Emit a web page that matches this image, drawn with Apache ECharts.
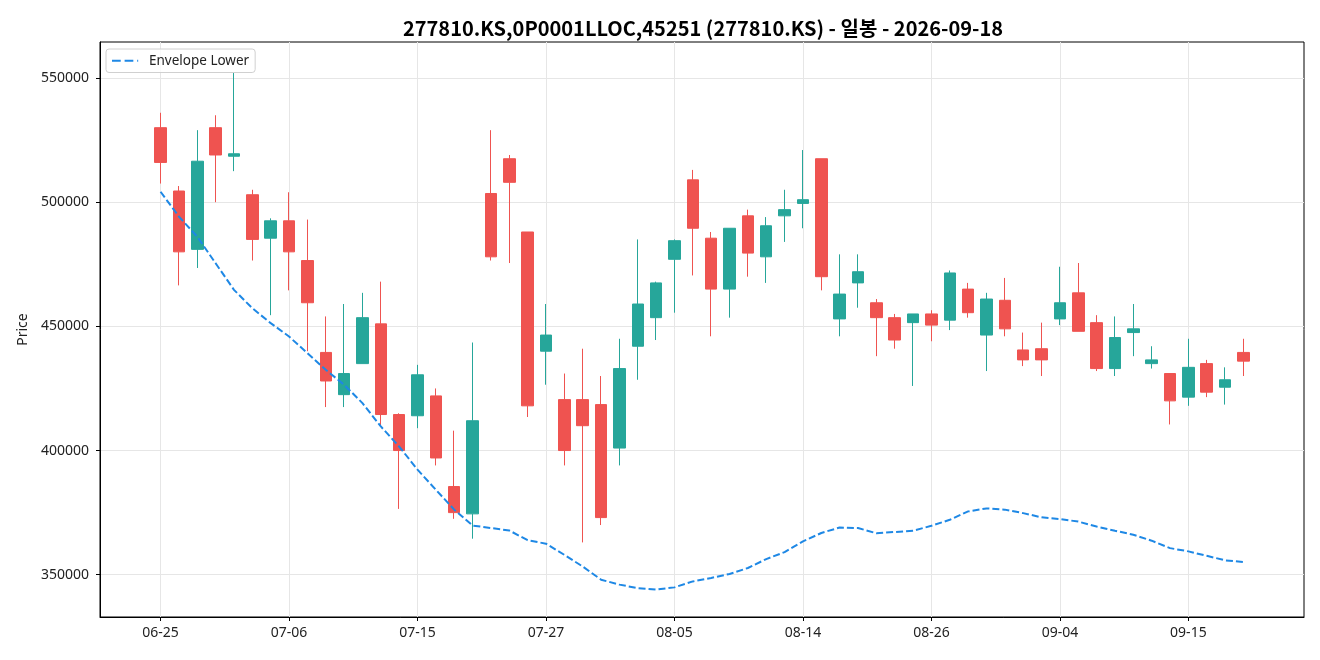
<!DOCTYPE html>
<html>
<head>
<meta charset="utf-8">
<script src="https://cdn.jsdelivr.net/npm/echarts@6/dist/echarts.min.js"></script>
<style>
  html, body { margin: 0; padding: 0; background: #fff; }
  #chart { width: 1320px; height: 660px; }
</style>
</head>
<body>
<div id="chart"></div>
<script>
// trading days shown on the axis
const dates = [
    '06-25','06-26','06-29','06-30','07-01','07-02','07-03','07-06','07-07','07-08',
    '07-09','07-10','07-13','07-14','07-15','07-16','07-20','07-21','07-22','07-23',
    '07-24','07-27','07-28','07-29','07-30','07-31','08-03','08-04','08-05','08-06',
    '08-07','08-10','08-11','08-12','08-13','08-14','08-18','08-19','08-20','08-21',
    '08-24','08-25','08-26','08-27','08-28','08-31','09-01','09-02','09-03','09-04',
    '09-07','09-08','09-09','09-10','09-11','09-14','09-15','09-16','09-17','09-18'
];
const opens = [
    530000,504500,481000,530000,518500,503000,485500,492500,476500,439500,
    422500,435000,451000,414500,414000,422000,385500,374500,503500,517500,
    488000,440000,420500,420500,418500,401000,442000,453500,477000,509000,
    485500,465000,494500,478000,494500,499500,517500,453000,467500,459500,
    453500,451500,455000,452500,465000,446500,460500,440500,441000,453000,
    463500,451500,433000,447500,435000,431000,421500,435000,425500,439500
];
const closes = [
    516000,480000,516500,519000,519500,485000,492500,480000,459500,428000,
    431000,453500,414500,400000,430500,397000,375000,412000,478000,508000,
    418000,446500,400000,410000,373000,433000,459000,467500,484500,489500,
    465000,489500,479500,490500,497000,501000,470000,463000,472000,453500,
    444500,455000,450500,471500,455500,461000,449000,436500,436500,459500,
    448000,433000,445500,449000,436500,420000,433500,423500,428500,436000
];
const lows = [
    507500,466500,473500,500000,512500,476500,454500,464500,440000,417500,
    417500,435000,409500,376500,409000,394000,372500,364500,476500,475500,
    413500,426500,394000,363000,370000,394000,428500,444500,455500,470500,
    446000,453500,470000,467500,484000,489500,464500,446000,457500,438000,
    441000,426000,444000,448500,453500,432000,446000,434000,430000,450500,
    448000,432000,430000,438000,433000,410500,418000,421500,418500,430000
];
const highs = [
    536000,506500,529000,535000,552000,505000,493500,504000,493000,454000,
    459000,463500,468000,415000,434500,425000,408000,443500,529000,519000,
    488000,459000,431000,441000,430000,445000,485000,468000,485000,513000,
    488000,489500,497000,494000,505000,521000,517500,479000,479000,461000,
    455000,455000,456500,472500,467500,463500,469500,447500,451500,474000,
    475500,454500,454000,459000,442000,431000,445000,436500,433500,445000
];
const envelopeLower = [
    504200,494200,486100,475400,464700,457300,451300,445900,439200,432500,
    426500,419100,409700,401600,392300,384200,376200,369800,368800,367800,
    363900,362500,358000,353300,348000,346000,344600,344000,344900,347300,
    348700,350300,352700,356300,359100,363400,366800,369000,368800,366700,
    367200,367700,369700,372100,375500,376700,376200,374800,373100,372400,
    371400,369400,367700,366100,363700,360700,359400,357600,355800,355100
];
const xTicks = [0, 7, 14, 21, 28, 35, 42, 49, 56];
const yTicks = [350000, 400000, 450000, 500000, 550000];

const candles = dates.map((d, i) => [i, opens[i], closes[i], lows[i], highs[i]]);
const envPoints = envelopeLower.map((v, i) => [i, v]);

const chart = echarts.init(document.getElementById('chart'));
const font = 'Noto Sans, "Noto Sans CJK KR", sans-serif';

chart.setOption({
    animation: false,
    backgroundColor: '#ffffff',
    textStyle: { fontFamily: font },
    title: {
        text: '277810.KS,0P0001LLOC,45251 (277810.KS) - 일봉 - 2026-09-18',
        left: 698,
        top: 13,
        textAlign: 'center',
        textStyle: {
            fontFamily: '"Noto Sans CJK KR", sans-serif',
            fontSize: 20,
            fontWeight: 'bold',
            color: '#000'
        }
    },
    legend: {
        left: 106,
        top: 49,
        orient: 'vertical',
        itemWidth: 32,
        itemHeight: 10,
        itemGap: 6,
        padding: [5, 6, 5, 6],
        borderColor: '#d0d0d0',
        borderWidth: 1,
        borderRadius: 3,
        backgroundColor: 'rgba(255,255,255,0.8)',
        textStyle: { fontSize: 13.5, color: '#222', fontFamily: font },
        data: [{ name: 'Envelope Lower', icon: 'path://M0,0 L9,0 L9,2 L0,2 Z M13,0 L22,0 L22,2 L13,2 Z M26,0 L27,0 L27,2 L26,2 Z M33,0 L33.01,0 L33.01,0.01 Z', itemStyle: { color: '#1e88e5' } }]
    },
    grid: {
        left: 100,
        top: 42,
        right: 16,
        bottom: 43,
        show: true,
        borderColor: '#000',
        borderWidth: 1
    },
    xAxis: {
        type: 'value',
        min: -3.3,
        max: 62.3,
        axisLine: { show: true, onZero: false, lineStyle: { color: '#000' } },
        axisTick: { show: true, length: 4, customValues: xTicks, lineStyle: { color: '#000' } },
        axisLabel: {
            customValues: xTicks,
            fontSize: 14,
            color: '#222',
            margin: 9,
            formatter: v => dates[Math.round(v)] || ''
        },
        splitLine: { show: true, lineStyle: { color: '#e6e6e6', width: 1 } }
    },
    yAxis: {
        type: 'value',
        min: 332970,
        max: 564500,
        name: 'Price',
        nameLocation: 'middle',
        nameGap: 69,
        nameTextStyle: { fontSize: 14, color: '#222' },
        axisLine: { show: true, onZero: false, lineStyle: { color: '#000' } },
        axisTick: { show: true, length: 4, customValues: yTicks, lineStyle: { color: '#000' } },
        axisLabel: {
            customValues: yTicks,
            fontSize: 14,
            color: '#222',
            margin: 11,
            formatter: v => String(v)
        },
        splitLine: { show: true, lineStyle: { color: '#e6e6e6', width: 1 } }
    },
    series: [
        {
            name: 'Candles',
            type: 'candlestick',
            data: candles,
            encode: { x: 0, y: [1, 2, 3, 4] },
            barWidth: 12,
            itemStyle: {
                color: '#26a69a',
                color0: '#ef5350',
                borderColor: '#26a69a',
                borderColor0: '#ef5350',
                borderWidth: 1
            }
        },
        {
            name: 'Envelope Lower',
            type: 'line',
            data: envPoints,
            showSymbol: false,
            smooth: false,
            lineStyle: { color: '#1e88e5', width: 2, type: [7, 3] },
            itemStyle: { color: '#1e88e5' },
            z: 3
        }
    ]
});
window.addEventListener('resize', () => chart.resize());
</script>
</body>
</html>
